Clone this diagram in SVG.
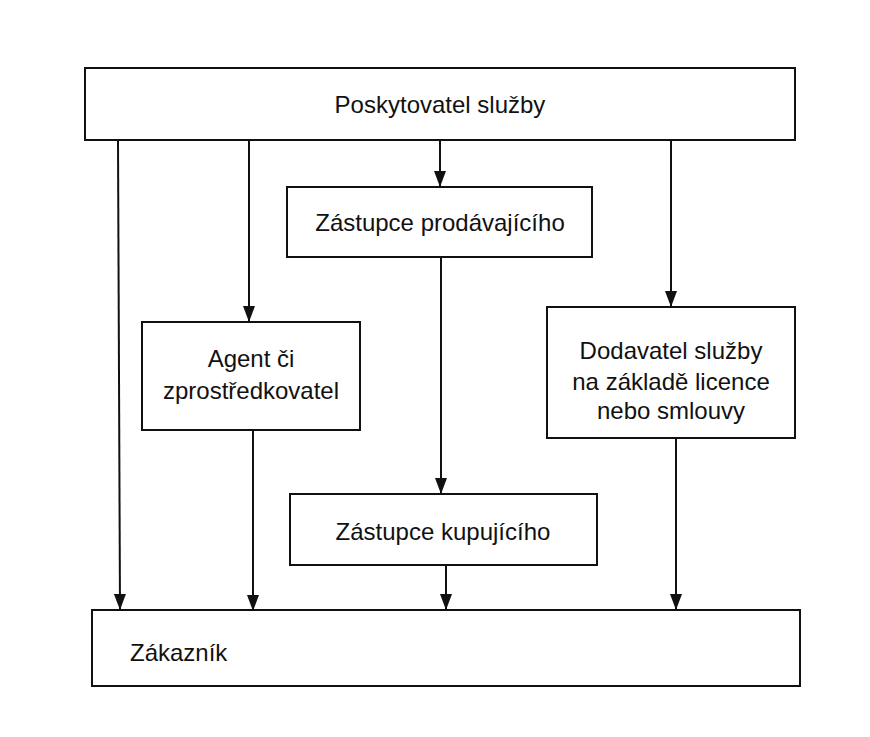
<svg xmlns="http://www.w3.org/2000/svg" width="870" height="737" viewBox="0 0 870 737">
<style>
.box{fill:#fff;stroke:#111;stroke-width:2}
.t{font-family:"Liberation Sans",Arial,sans-serif;font-size:24px;fill:#111;text-anchor:middle;dominant-baseline:central}
.c{stroke:#111;stroke-width:2;fill:none;marker-end:url(#ah)}
</style>
<defs>
<marker id="ah" markerUnits="userSpaceOnUse" markerWidth="16" markerHeight="12" refX="16" refY="6" orient="auto">
<path d="M0,0 L16,6 L0,12 z" fill="#111"/>
</marker>
</defs>
<rect width="870" height="737" fill="#fff"/>
<g id="connectors">
<line class="c" x1="118" y1="140" x2="120" y2="610"/>
<line class="c" x1="249" y1="140" x2="249" y2="322"/>
<line class="c" x1="440" y1="140" x2="440" y2="187"/>
<line class="c" x1="671" y1="140" x2="671" y2="307"/>
<line class="c" x1="441" y1="257" x2="441" y2="494"/>
<line class="c" x1="253" y1="430" x2="253" y2="611"/>
<line class="c" x1="446" y1="565" x2="446" y2="610"/>
<line class="c" x1="676" y1="438" x2="676" y2="610"/>
</g>
<g id="poskytovatel">
<rect class="box" x="85" y="68" width="710" height="72"/>
<text class="t" x="440" y="104">Poskytovatel služby</text>
</g>
<g id="zastupce-prodavajiciho">
<rect class="box" x="287" y="187" width="305" height="70"/>
<text class="t" x="440" y="222">Zástupce prodávajícího</text>
</g>
<g id="agent">
<rect class="box" x="142" y="322" width="218" height="108"/>
<text class="t" x="251" y="358">Agent či</text>
<text class="t" x="251" y="390">zprostředkovatel</text>
</g>
<g id="dodavatel">
<rect class="box" x="547" y="307" width="248" height="131"/>
<text class="t" x="671" y="350">Dodavatel služby</text>
<text class="t" x="671" y="381">na základě licence</text>
<text class="t" x="671" y="410">nebo smlouvy</text>
</g>
<g id="zastupce-kupujiciho">
<rect class="box" x="290" y="494" width="307" height="71"/>
<text class="t" x="443" y="531">Zástupce kupujícího</text>
</g>
<g id="zakaznik">
<rect class="box" x="92" y="610" width="708" height="76"/>
<text class="t" x="130" y="652" style="text-anchor:start">Zákazník</text>
</g>
</svg>
